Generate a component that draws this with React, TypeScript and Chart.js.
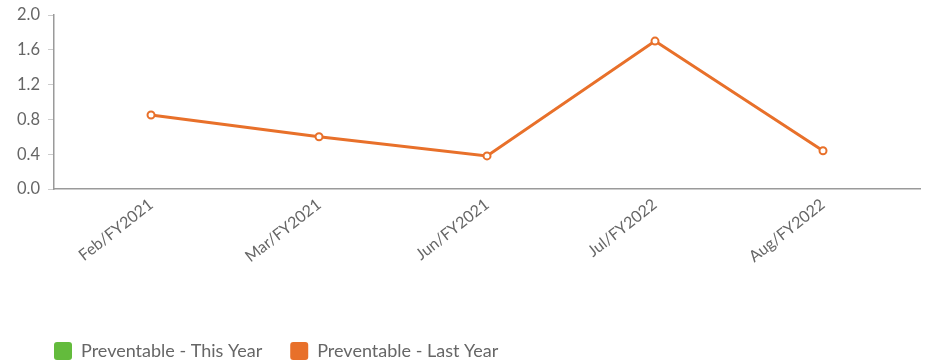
import React, { useEffect, useRef } from "react";
import { Chart, registerables } from "chart.js";

Chart.register(...registerables);

const categories = ["Feb/FY2021", "Mar/FY2021", "Jun/FY2021", "Jul/FY2022", "Aug/FY2022"];
const thisYear: (number | null)[] = [null, null, null, null, null];
const lastYear = [0.85, 0.6, 0.38, 1.7, 0.44];
const yTicks = [0, 0.4, 0.8, 1.2, 1.6, 2.0];

const ORANGE = "#E8702A";
const GREEN = "#63BB3C";
const TEXT = "#666666";
const AXIS = "#9a9a9a";

const shiftPlugin = {
  id: "shiftPlugin",
  afterLayout(chart: any) {
    const x = chart.scales.x;
    if (x) {
      x._startPixel += 13;
      x._length -= 26;
    }
    const lg = chart.legend;
    if (lg) {
      lg.left += 17;
      lg.top += 6;
    }
  },
};

export default function App() {
  const ref = useRef<HTMLCanvasElement>(null);
  useEffect(() => {
    if (!ref.current) return;
    const chart = new Chart(ref.current, {
      type: "line",
      data: {
        labels: categories,
        datasets: [
          {
            label: "Preventable - This Year",
            data: thisYear,
            borderColor: GREEN,
            backgroundColor: GREEN,
          },
          {
            label: "Preventable - Last Year",
            data: lastYear,
            borderColor: ORANGE,
            backgroundColor: ORANGE,
            borderWidth: 3,
            pointRadius: 3.5,
            pointBorderWidth: 2,
            pointBackgroundColor: "#ffffff",
            pointBorderColor: ORANGE,
            tension: 0,
          },
        ],
      },
      options: {
        animation: false,
        responsive: true,
        maintainAspectRatio: false,
        layout: { padding: { top: 3, right: 7, left: 9, bottom: 0 } },
        plugins: {
          tooltip: { enabled: false },
          legend: {
            position: "bottom",
            align: "start",
            labels: {
              boxWidth: 18,
              boxHeight: 18,
              useBorderRadius: true,
              borderRadius: 3,
              padding: 28,
              color: TEXT,
              font: { family: "Lato", size: 18 },
              generateLabels: (c: any) =>
                c.data.datasets.map((ds: any, i: number) => ({
                  text: ds.label,
                  fillStyle: ds.backgroundColor,
                  strokeStyle: ds.backgroundColor,
                  lineWidth: 0,
                  hidden: false,
                  datasetIndex: i,
                  fontColor: TEXT,
                  borderRadius: 3,
                })),
            },
          },
        },
        scales: {
          x: {
            offset: true,
            grid: { drawOnChartArea: false, drawTicks: false, display: true, color: AXIS },
            border: { display: true, color: AXIS, width: 1.5 },
            ticks: {
              color: TEXT,
              font: { family: "Lato", size: 16 },
              maxRotation: 38,
              minRotation: 38,
              padding: 6,
            },
            afterFit: (axis: any) => {
              axis.height = 119;
            },
          },
          y: {
            min: 0,
            max: 2,
            afterBuildTicks: (axis: any) => {
              axis.ticks = yTicks.map((v) => ({ value: v }));
            },
            grid: { drawOnChartArea: false, drawTicks: true, tickLength: 6, color: "#cccccc" },
            border: { display: true, color: AXIS, width: 1.5 },
            ticks: {
              color: TEXT,
              font: { family: "Lato", size: 16.5, lineHeight: 0.85 },
              padding: 8,
              callback: (v: any) => Number(v).toFixed(1),
            },
          },
        },
      },
      plugins: [shiftPlugin],
    });
    return () => chart.destroy();
  }, []);
  return (
    <div style={{ position: "fixed", left: 0, top: 0, width: 927, height: 364, background: "#fff" }}>
      <canvas ref={ref} />
    </div>
  );
}
